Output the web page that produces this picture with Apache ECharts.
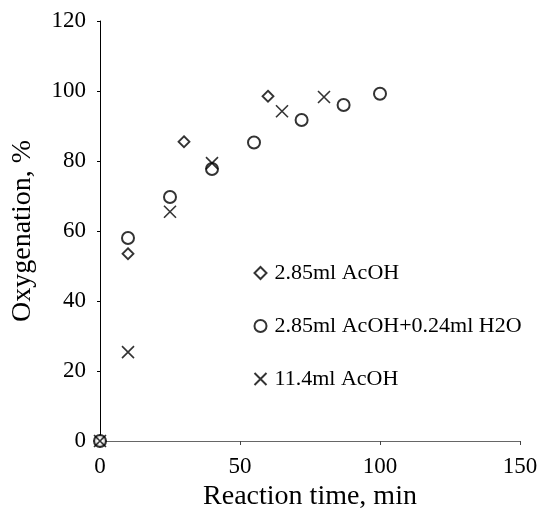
<!DOCTYPE html>
<html>
<head>
<meta charset="utf-8">
<script src="https://cdn.jsdelivr.net/npm/echarts@6/dist/echarts.min.js"></script>
<style>html,body{margin:0;padding:0;background:#fff}#c{width:543px;height:516px}</style>
</head>
<body>
<div id="c"></div>
<script>
var seriesNames = ['2.85ml AcOH', '2.85ml AcOH+0.24ml H2O', '11.4ml AcOH'];
var diamondX = [0, 10, 30, 60];
var diamondY = [0, 53.5, 85.5, 98.5];
var circleX = [0, 10, 25, 40, 55, 72, 87, 100];
var circleY = [0, 58, 69.7, 77.7, 85.3, 91.7, 96, 99.2];
var crossX = [0, 10, 25, 40, 65, 80];
var crossY = [0, 25.4, 65.5, 79.4, 94.2, 98.3];
var xTicks = [0, 50, 100, 150];
var yTicks = [0, 20, 40, 60, 80, 100, 120];

function pairs(xs, ys) { return xs.map(function (x, i) { return [x, ys[i]]; }); }
var font = 'Liberation Serif';
var chart = echarts.init(document.getElementById('c'));
chart.setOption({
  animation: false,
  backgroundColor: '#fff',
  grid: { left: 100, right: 23, top: 21, bottom: 75 },
  xAxis: {
    type: 'value', min: xTicks[0], max: xTicks[xTicks.length - 1], interval: 50,
    name: 'Reaction time, min', nameLocation: 'middle', nameGap: 30,
    nameTextStyle: { fontFamily: font, fontSize: 28, color: '#000' },
    axisLine: { lineStyle: { color: '#666', width: 1 } },
    axisTick: { show: true, length: 4, lineStyle: { color: '#444' } },
    axisLabel: { fontFamily: font, fontSize: 23, color: '#000', margin: 14 },
    splitLine: { show: false }
  },
  yAxis: {
    type: 'value', min: yTicks[0], max: yTicks[yTicks.length - 1], interval: 20,
    name: 'Oxygenation, %', nameLocation: 'middle', nameGap: 63,
    nameTextStyle: { fontFamily: font, fontSize: 28, color: '#000' },
    axisLine: { show: true, lineStyle: { color: '#000', width: 1 } },
    axisTick: { show: true, length: 3, lineStyle: { color: '#000' } },
    axisLabel: { fontFamily: font, fontSize: 23, color: '#000', margin: 14 },
    splitLine: { show: false }
  },
  legend: {
    orient: 'vertical', left: 252, top: 262, padding: 0,
    itemWidth: 12, itemHeight: 12, itemGap: 31,
    textStyle: { fontFamily: font, fontSize: 22, color: '#000', padding: [0, 0, 0, 3] },
    data: seriesNames
  },
  series: [
    {
      name: seriesNames[0], type: 'scatter', symbol: 'diamond', symbolSize: 11,
      itemStyle: { color: '#fff', borderColor: '#000', borderWidth: 1.8 },
      data: pairs(diamondX, diamondY)
    },
    {
      name: seriesNames[1], type: 'scatter', symbol: 'circle', symbolSize: 12,
      itemStyle: { color: '#fff', borderColor: '#000', borderWidth: 2 },
      data: pairs(circleX, circleY)
    },
    {
      name: seriesNames[2], type: 'scatter', symbol: 'path://M0,0L10,10M10,0L0,10', symbolSize: 12,
      itemStyle: { color: 'none', borderColor: '#000', borderWidth: 1.6 },
      data: pairs(crossX, crossY)
    }
  ]
});
</script>
</body>
</html>
